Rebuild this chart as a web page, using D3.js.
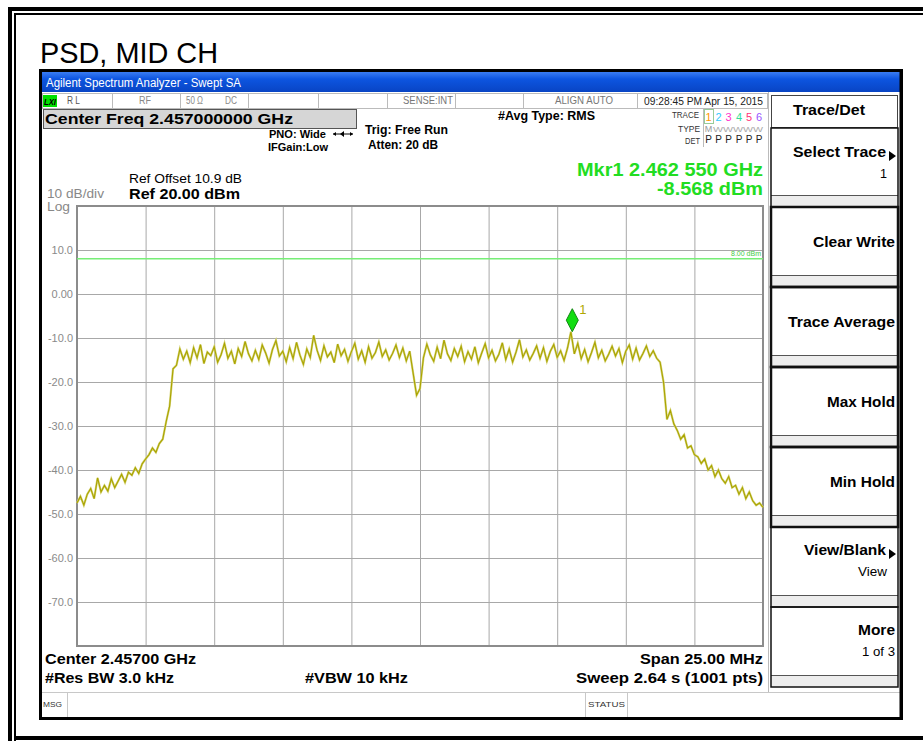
<!DOCTYPE html>
<html>
<head>
<meta charset="utf-8">
<script src="https://cdnjs.cloudflare.com/ajax/libs/d3/7.8.5/d3.min.js"></script>
<style>
html, body { margin: 0; padding: 0; background: #fff; }
svg { display: block; font-family: "Liberation Sans", Arial, sans-serif; }
</style>
</head>
<body>
<div id="container"></div>
<script>
// sweep settings (MHz) and trace, 201 points across the span
var freqStart = 2444.5;
var freqSpan = 25;
var traceDbm = [
  -47.5, -46.0, -48.0, -45.5, -44.2, -46.5, -41.8, -45.0, -43.5, -44.8,
  -42.0, -44.0, -42.5, -41.0, -42.8, -40.5, -41.2, -39.5, -40.8, -38.6,
  -37.5, -36.5, -35.0, -36.0, -34.0, -33.0, -29.0, -25.5, -17.0, -16.2,
  -12.5, -14.8, -13.0, -15.6, -12.2, -14.5, -11.5, -15.8, -13.2, -14.0,
  -12.0, -15.5, -13.8, -11.2, -14.6, -13.0, -15.9, -12.4, -14.2, -10.8,
  -13.6, -15.2, -12.8, -14.9, -11.6, -13.4, -15.7, -12.6, -10.6, -14.1,
  -13.0, -15.4, -12.2, -14.7, -11.0, -13.9, -16.0, -12.5, -14.4, -9.4,
  -12.8, -15.1, -11.8, -14.3, -13.2, -15.6, -11.4, -14.0, -12.6, -15.3,
  -13.1, -11.2, -14.8, -12.9, -15.5, -12.0, -14.6, -13.3, -10.9, -14.2,
  -12.7, -15.0, -13.5, -11.6, -14.4, -12.3, -15.2, -13.0, -18.0, -23.0,
  -21.5, -14.5, -11.4, -13.8, -15.3, -12.1, -14.7, -10.5, -13.6, -15.1,
  -12.4, -14.2, -11.9, -15.4, -13.1, -14.8, -12.0, -15.6, -13.4, -11.3,
  -14.5, -12.8, -15.2, -13.7, -11.1, -14.9, -12.5, -15.5, -13.2, -10.4,
  -14.3, -12.7, -15.0, -13.5, -11.8, -14.6, -12.2, -15.3, -13.0, -11.5,
  -14.4, -12.9, -15.1, -12.3, -8.6, -13.6, -11.2, -14.7, -12.6, -15.4,
  -13.3, -11.0, -14.5, -12.8, -15.2, -13.7, -11.9, -14.1, -12.4, -15.6,
  -13.0, -11.6, -14.8, -12.3, -15.0, -13.5, -11.8, -14.2, -12.9, -14.6,
  -15.5,
  -20.0, -28.5, -26.5, -29.5, -31.0, -33.0, -32.0, -35.0, -34.5, -36.5,
  -37.0, -38.5, -37.5, -40.0, -39.0, -41.5, -40.0, -42.0, -43.0, -41.5,
  -44.0, -43.5, -45.5, -44.0, -46.5, -45.0, -47.0, -48.0, -47.5, -48.5
];
var yTickValues = [10, 0, -10, -20, -30, -40, -50, -60, -70];
var yTickLabels = ["10.0", "0.00", "-10.0", "-20.0", "-30.0", "-40.0", "-50.0", "-60.0", "-70.0"];
var refLevel = 20;
var dbPerDiv = 10;
var displayLine = 8;
var markerFreq = 2462.55;
var markerDbm = -8.568;
var traceDigits = ["1", "2", "3", "4", "5", "6"];
var traceColors = ["#ff9900", "#33ccff", "#ff33cc", "#33dd99", "#ff3377", "#9955ff"];
var softKeys = ["Select Trace", "Clear Write", "Trace Average", "Max Hold", "Min Hold", "View/Blank", "More"];
var softSubs = ["1", "", "", "", "", "View", "1 of 3"];

var width = 923, height = 741;
var svg = d3.select("#container").append("svg")
    .attr("width", width)
    .attr("height", height);

function rule(x1, y1, x2, y2, color, w) {
    return svg.append("line")
        .attr("x1", x1).attr("y1", y1).attr("x2", x2).attr("y2", y2)
        .attr("stroke", color).attr("stroke-width", w);
}

function label(str, x, y, size, o) {
    o = o || {};
    var t = svg.append("text")
        .attr("x", x).attr("y", y)
        .attr("font-size", size)
        .attr("font-weight", o.bold ? "bold" : "normal")
        .attr("fill", o.color || "#000")
        .attr("text-anchor", o.anchor || "start")
        .text(str);
    if (o.len) t.attr("textLength", o.len).attr("lengthAdjust", "spacingAndGlyphs");
    if (o.italic) t.attr("font-style", "italic");
    return t;
}

// page frame (double black border)
rule(10, 7, 10, 741, "#000", 4);
rule(8, 9, 923, 9, "#000", 4);
rule(15, 13, 15, 741, "#000", 2);
rule(14, 14, 923, 14, "#000", 2);
rule(14, 738, 923, 738, "#000", 4);

label("PSD, MID CH", 40, 63, 29, {len: 178});

// analyzer screenshot
svg.append("rect")
    .attr("x", 40.5).attr("y", 70.5).attr("width", 861).attr("height", 648)
    .attr("fill", "#fff").attr("stroke", "#000").attr("stroke-width", 3);

var grad = svg.append("defs").append("linearGradient")
    .attr("id", "bar").attr("x1", 0).attr("y1", 0).attr("x2", 0).attr("y2", 1);
grad.append("stop").attr("offset", "0%").attr("stop-color", "#3a7cf2");
grad.append("stop").attr("offset", "35%").attr("stop-color", "#0d55e0");
grad.append("stop").attr("offset", "100%").attr("stop-color", "#0844c4");
svg.append("rect")
    .attr("x", 42).attr("y", 72).attr("width", 858).attr("height", 20)
    .attr("fill", "url(#bar)");
label("Agilent Spectrum Analyzer - Swept SA", 46, 87, 12, {color: "#fff", len: 195});

// status row
svg.append("rect")
    .attr("x", 42.5).attr("y", 93.5).attr("width", 725).attr("height", 15)
    .attr("fill", "#fff").attr("stroke", "#bbb");
[112, 180, 248, 318, 387, 455, 523, 637].forEach(function (sx) {
    rule(sx + 0.5, 94, sx + 0.5, 108, "#bbb", 1);
});
svg.append("rect")
    .attr("x", 43).attr("y", 95).attr("width", 14).attr("height", 12)
    .attr("fill", "#00e000");
label("LXI", 44, 105, 9, {bold: true, italic: true, len: 12});
label("R L", 67, 104, 10, {color: "#555", len: 13});
label("RF", 139, 104, 10, {color: "#888", len: 12});
label("50 \u03a9", 186, 104, 10, {color: "#888", len: 17});
label("DC", 225, 104, 10, {color: "#888", len: 12});
label("SENSE:INT", 453, 104, 10, {color: "#777", anchor: "end", len: 50});
label("ALIGN AUTO", 555, 104, 10, {color: "#777", len: 58});
label("09:28:45 PM Apr 15, 2015", 644, 105, 11, {color: "#222", len: 119});

// settings
svg.append("rect")
    .attr("x", 43.5).attr("y", 109.5).attr("width", 313).attr("height", 19)
    .attr("fill", "#d6d6d6").attr("stroke", "#555");
label("Center Freq 2.457000000 GHz", 45, 124, 15, {bold: true, len: 248});
label("PNO: Wide", 269, 138, 11, {bold: true, len: 57});
rule(333, 134, 353, 134, "#000", 1);
svg.append("path").attr("d", "M333,134 l3,-2 v4 z M353,134 l-3,-2 v4 z M340,134 l4,-3 v6 z").attr("fill", "#000");
label("IFGain:Low", 268, 151, 11, {bold: true, len: 60});
label("Trig: Free Run", 365, 134, 12, {bold: true, len: 83});
label("Atten: 20 dB", 368, 149, 12, {bold: true, len: 70});
label("#Avg Type: RMS", 498, 120, 12, {bold: true, len: 97});

label("TRACE", 699, 118, 9, {color: "#333", anchor: "end", len: 27});
label("TYPE", 700, 132, 9, {color: "#333", anchor: "end", len: 22});
label("DET", 700, 144, 9, {color: "#333", anchor: "end", len: 15});
rule(703.5, 109, 703.5, 147, "#bbb", 1);
svg.append("rect")
    .attr("x", 704.5).attr("y", 109.5).attr("width", 9).attr("height", 14)
    .attr("fill", "none").attr("stroke", "#9c9");
var digitX = [708.5, 718.5, 728.5, 739, 749, 759];
traceDigits.forEach(function (d, i) {
    label(d, digitX[i], 121, 11, {color: traceColors[i], anchor: "middle"});
    label("P", digitX[i], 143, 10, {color: "#222", anchor: "middle"});
});
label("M", 708.5, 132, 9, {color: "#999", anchor: "middle"});
label("WWWWW", 713, 132, 8, {color: "#aaa", len: 50});

label("Mkr1 2.462 550 GHz", 763, 176, 19, {bold: true, color: "#22dd22", anchor: "end", len: 186});
label("-8.568 dBm", 763, 195, 19, {bold: true, color: "#22dd22", anchor: "end", len: 106});

label("Ref Offset 10.9 dB", 129, 183, 13, {len: 113});
label("Ref 20.00 dBm", 129, 199, 15, {bold: true, len: 111});
label("10 dB/div", 47, 198, 12, {color: "#888", len: 57});
label("Log", 47, 211, 12, {color: "#888", len: 23});

// plot
var x = d3.scaleLinear()
    .domain([freqStart, freqStart + freqSpan])
    .range([77, 763]);
var y = d3.scaleLinear()
    .domain([refLevel - 10 * dbPerDiv, refLevel])
    .range([646, 206]);

var chart = svg.append("g");
chart.append("rect")
    .attr("x", 77).attr("y", 206).attr("width", 686).attr("height", 440)
    .attr("fill", "#fff");

chart.append("g")
    .attr("class", "grid")
    .attr("transform", "translate(0,646)")
    .call(d3.axisBottom(x)
        .tickValues(d3.range(0, 11).map(function (k) { return freqStart + k * freqSpan / 10; }))
        .tickSize(-440)
        .tickFormat(""));

chart.append("g")
    .attr("class", "grid")
    .attr("transform", "translate(77,0)")
    .call(d3.axisLeft(y)
        .tickValues(yTickValues)
        .tickSize(-686)
        .tickFormat(""));

chart.selectAll(".grid .domain").remove();
chart.selectAll(".grid line").attr("stroke", "#a8a8a8").attr("stroke-width", 1);

var yAxis = chart.append("g")
    .attr("transform", "translate(77,0)")
    .call(d3.axisLeft(y)
        .tickValues(yTickValues)
        .tickSize(0)
        .tickPadding(4)
        .tickFormat(function (d, i) { return yTickLabels[i]; }));
yAxis.select(".domain").remove();
yAxis.selectAll("text")
    .attr("font-family", "\"Liberation Sans\", Arial, sans-serif")
    .attr("font-size", 11)
    .attr("fill", "#8a8a8a");

chart.append("rect")
    .attr("x", 77).attr("y", 206).attr("width", 686).attr("height", 440)
    .attr("fill", "none").attr("stroke", "#8c8c8c").attr("stroke-width", 2);

// display line
chart.append("line")
    .attr("x1", x(freqStart)).attr("x2", x(freqStart + freqSpan))
    .attr("y1", y(displayLine)).attr("y2", y(displayLine))
    .attr("stroke", "#77ee77").attr("stroke-width", 1.5);
chart.append("text")
    .attr("x", 761).attr("y", y(displayLine) - 3)
    .attr("text-anchor", "end")
    .attr("font-size", 7)
    .attr("fill", "#44cc44")
    .text("8.00 dBm");

// trace
var step = freqSpan / (traceDbm.length - 1);
var line = d3.line()
    .x(function (d, i) { return x(freqStart + i * step); })
    .y(function (d) { return y(d); });
chart.append("path")
    .datum(traceDbm)
    .attr("d", line)
    .attr("fill", "none")
    .attr("stroke", "#d6d47a")
    .attr("stroke-width", 2.2);
chart.append("path")
    .datum(traceDbm)
    .attr("d", line)
    .attr("fill", "none")
    .attr("stroke", "#aaa400")
    .attr("stroke-width", 1.1);

// marker
var mx = x(markerFreq), my = y(markerDbm);
chart.append("path")
    .attr("d", "M" + mx + "," + my + " l-6,-11.5 l6,-11.5 l6,11.5 z")
    .attr("fill", "#11dd11")
    .attr("stroke", "#118811")
    .attr("stroke-width", 1);
chart.append("text")
    .attr("x", mx + 7).attr("y", my - 18)
    .attr("font-size", 13)
    .attr("fill", "#b0a800")
    .text("1");

// bottom annotations
label("Center 2.45700 GHz", 45, 664, 15, {bold: true, len: 151});
label("#Res BW 3.0 kHz", 45, 683, 15, {bold: true, len: 129});
label("#VBW 10 kHz", 305, 683, 15, {bold: true, len: 103});
label("Span 25.00 MHz", 763, 664, 15, {bold: true, anchor: "end", len: 123});
label("Sweep  2.64 s (1001 pts)", 763, 683, 15, {bold: true, anchor: "end", len: 187});

// message bar
rule(42, 692.5, 900, 692.5, "#c8c8c8", 1);
rule(67.5, 693, 67.5, 717, "#c8c8c8", 1);
rule(585.5, 693, 585.5, 717, "#c8c8c8", 1);
rule(627.5, 693, 627.5, 717, "#c8c8c8", 1);
label("MSG", 43, 707, 8, {color: "#333", len: 19});
label("STATUS", 588, 707, 8, {color: "#333", len: 37});

// soft key panel
rule(768.5, 92, 768.5, 692, "#bbb", 1);
svg.append("rect")
    .attr("x", 771.5).attr("y", 95.5).attr("width", 126).attr("height", 32)
    .attr("fill", "#fff").attr("stroke", "#444");
label("Trace/Det", 829, 115, 14, {bold: true, anchor: "middle", len: 72});

var keyLens = [93, 82, 107, 68, 65, 82, 37];
var subLens = [7, 0, 0, 0, 0, 29, 33];
softKeys.forEach(function (k, i) {
    var top = (i === 0 ? 128 : 127 + 80 * i);
    var bottom = 127 + 80 * (i + 1);
    var thick = (i >= 1 && i <= 4);
    svg.append("rect")
        .attr("x", 771).attr("y", bottom - 11).attr("width", 127).attr("height", 11)
        .attr("fill", "#ededed");
    rule(771, bottom - 11.5, 898, bottom - 11.5, "#555", 1);
    svg.append("rect")
        .attr("x", 771).attr("y", top).attr("width", 127).attr("height", bottom - top)
        .attr("fill", "none")
        .attr("stroke", "#111")
        .attr("stroke-width", thick ? 2.5 : 1.5);
    var hasArrow = (k === "Select Trace" || k === "View/Blank");
    var cy = top + (i === 0 ? 29 : 40);
    if (softSubs[i]) cy = top + (i === 0 ? 29 : 28);
    label(k, hasArrow ? 886 : 895, cy, 14, {bold: true, anchor: "end", len: keyLens[i]});
    if (softSubs[i]) {
        label(softSubs[i], 887 + (i === 6 ? 8 : 0), cy + 21, 13, {anchor: "end", len: subLens[i]});
    }
    if (hasArrow) {
        svg.append("path")
            .attr("d", "M889," + (cy - 6) + " l7,5 l-7,5 z")
            .attr("fill", "#000");
    }
});
rule(901, 72, 901, 718, "#000", 3);
</script>
</body>
</html>
